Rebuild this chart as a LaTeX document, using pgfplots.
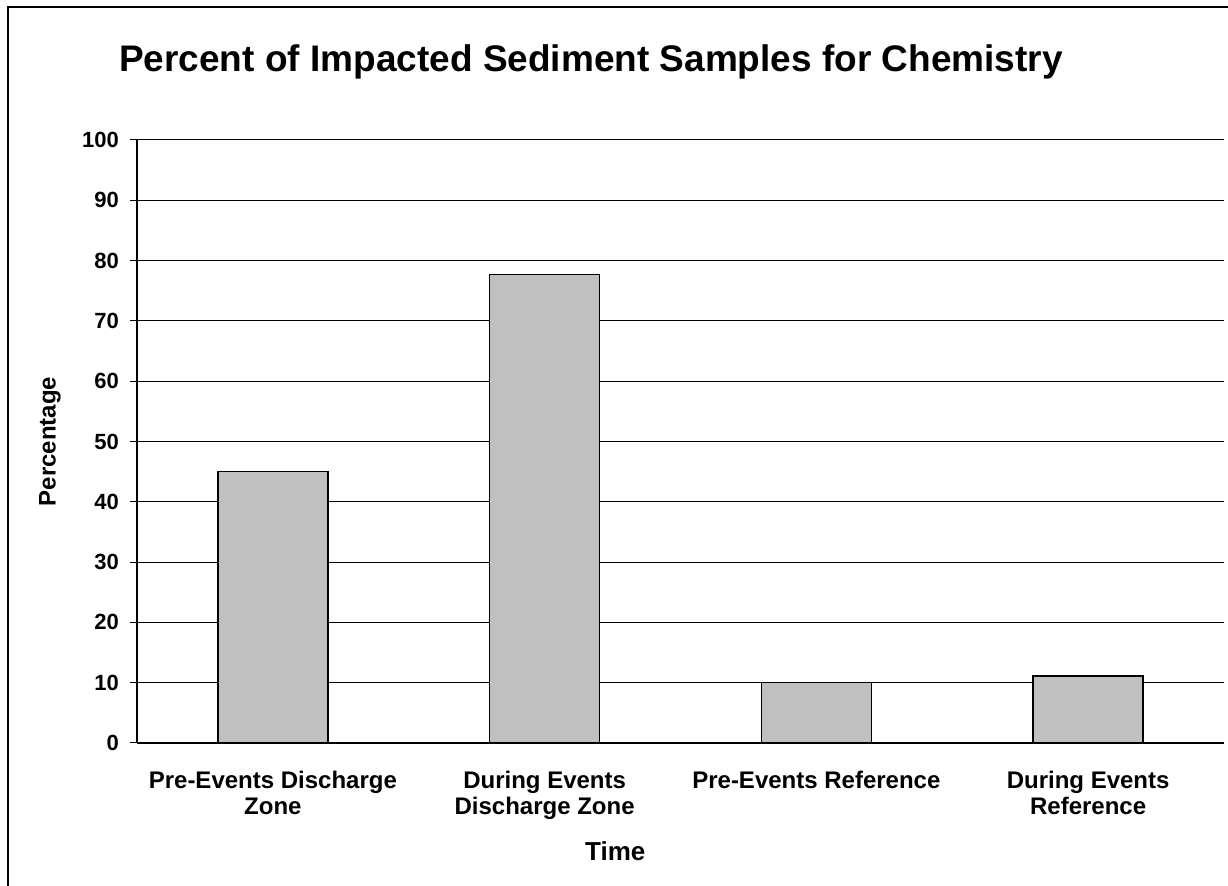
\documentclass[border=0pt]{standalone}
\usepackage{pgfplots}
\pgfplotsset{compat=1.18}
\usepackage{fontspec}
\setmainfont{Liberation Sans}
\definecolor{bargray}{HTML}{C0C0C0}

\begin{document}
\begin{tikzpicture}
% page = 1228x886 px at 0.5pt per px, origin at the plot's lower left corner
\useasboundingbox (-68.5pt,-71.5pt) rectangle (545.5pt,371.5pt);
\draw[line width=0.8pt] (-64.5pt,-80pt) -- (-64.5pt,368pt) -- (560pt,368pt);
\node[font=\fontsize{18.5}{22}\bfseries\selectfont] at (227pt,340.5pt)
  {Percent of Impacted Sediment Samples for Chemistry};
\begin{axis}[
    at={(0pt,0pt)}, anchor=south west,
    scale only axis,
    width=543.5pt, height=301.5pt,
    xmin=0.5, xmax=4.5,
    ymin=0, ymax=100,
    axis lines*=left,
    axis line style={line width=0.6pt},
    ytick={0,10,...,100},
    ymajorgrids=true,
    grid style={black, line width=0.5pt},
    tick align=outside,
    major tick length=3.5pt,
    tick style={black, line width=0.5pt},
    xtick={1,2,3,4},
    xticklabels={{Pre-Events Discharge\\Zone},{During Events\\Discharge Zone},
                 {Pre-Events Reference},{During Events\\Reference}},
    xtick style={draw=none},
    extra x ticks={0.5,1.5,2.5,3.5,4.5},
    extra x tick labels={},
    extra x tick style={tick style={black, line width=0.5pt}, grid=none},
    xticklabel style={align=center, anchor=north, yshift=-7pt,
                      font=\fontsize{12}{13}\bfseries\selectfont},
    yticklabel style={xshift=-2pt, font=\fontsize{11}{12}\bfseries\selectfont},
    /pgf/number format/assume math mode=true,
    xlabel={Time},
    ylabel={Percentage},
    xlabel style={font=\fontsize{13}{15}\bfseries\selectfont,
                  at={(axis description cs:0.44,0)}, anchor=center, yshift=-54pt},
    ylabel style={font=\fontsize{12}{14}\bfseries\selectfont,
                  at={(axis description cs:0,0.5)}, anchor=center, yshift=43.5pt},
    ]
  \addplot[ybar, bar width=55pt, fill=bargray, draw=black, line width=0.75pt]
    coordinates {(1,45) (2,77.7) (3,10) (4,11.1)};
\end{axis}
\end{tikzpicture}
\end{document}
